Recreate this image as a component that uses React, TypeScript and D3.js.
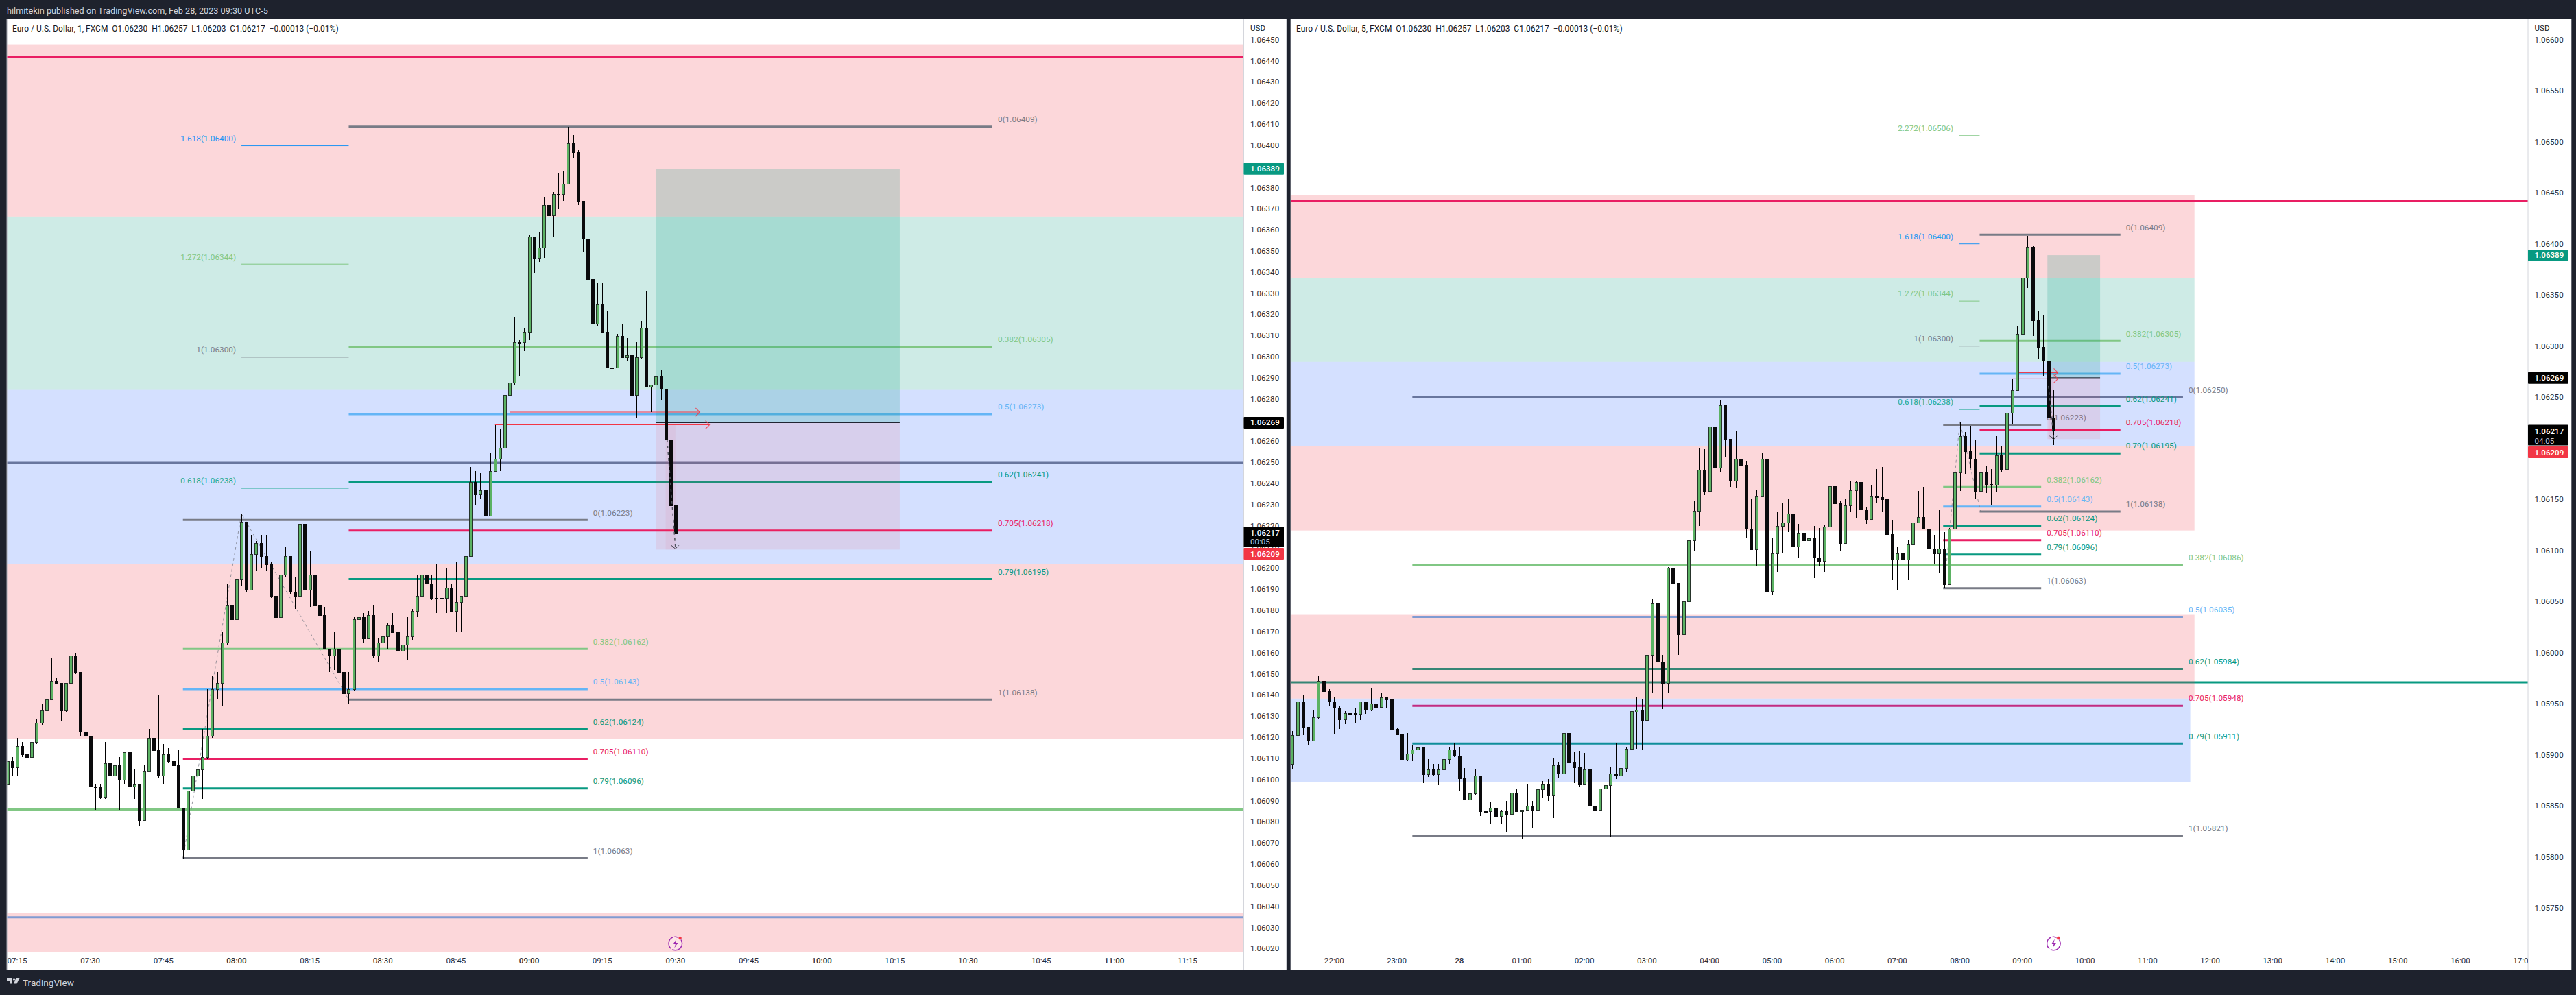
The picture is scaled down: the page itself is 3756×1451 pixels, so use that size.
import React from "react";
import * as d3 from "d3";

// Candles: [open, high, low, close] as fifth-decimal points above 1.00000 (6223 = 1.06223)
const candles1m: number[][] = [
[6098,6109,6091,6109],[6109,6111,6102,6106],[6106,6120,6102,6116],[6116,6118,6111,6112],[6112,6113,6104,6111],[6111,6119,6103,6118],
[6118,6129,6117,6127],[6127,6136,6126,6133],[6133,6140,6131,6138],[6138,6158,6138,6147],[6147,6148,6146,6146],[6146,6146,6128,6133],
[6133,6146,6132,6146],[6146,6162,6143,6159],[6159,6160,6150,6151],[6151,6151,6121,6123],[6123,6124,6121,6121],[6121,6123,6092,6097],
[6097,6098,6086,6097],[6097,6098,6091,6092],[6092,6118,6091,6108],[6108,6108,6086,6102],[6102,6107,6101,6107],[6107,6111,6086,6100],
[6100,6113,6098,6113],[6113,6115,6097,6097],[6097,6105,6091,6098],[6098,6098,6078,6081],[6081,6107,6081,6104],[6104,6124,6104,6120],
[6120,6126,6113,6114],[6114,6140,6101,6102],[6102,6117,6098,6112],[6112,6115,6108,6109],[6109,6119,6106,6107],[6107,6114,6087,6087],
[6087,6087,6063,6067],[6067,6095,6067,6095],[6095,6109,6092,6102],[6102,6123,6095,6105],[6105,6124,6091,6111],[6111,6143,6110,6121],
[6121,6149,6120,6143],[6143,6151,6138,6146],[6146,6170,6135,6165],[6165,6193,6164,6183],[6183,6190,6168,6176],[6176,6197,6158,6195],
[6195,6226,6192,6222],[6222,6222,6189,6190],[6190,6216,6190,6207],[6207,6213,6199,6212],[6212,6216,6200,6206],[6206,6216,6199,6202],
[6202,6203,6186,6187],[6187,6187,6175,6177],[6177,6213,6177,6197],[6197,6210,6196,6206],[6206,6206,6188,6189],[6189,6196,6181,6187],
[6187,6221,6187,6221],[6221,6222,6189,6190],[6190,6208,6182,6197],[6197,6207,6183,6183],[6183,6192,6177,6178],[6178,6182,6162,6162],
[6162,6162,6151,6159],[6159,6170,6152,6162],[6162,6168,6150,6151],[6151,6155,6137,6141],[6141,6151,6136,6143],[6143,6177,6142,6176],
[6176,6177,6157,6177],[6177,6179,6165,6167],[6167,6180,6167,6178],[6178,6183,6158,6159],[6159,6167,6156,6165],[6165,6180,6161,6168],
[6168,6174,6162,6173],[6173,6179,6170,6170],[6170,6177,6153,6161],[6161,6168,6145,6164],[6164,6177,6157,6168],[6168,6181,6166,6180],
[6180,6197,6177,6187],[6187,6210,6182,6197],[6197,6212,6192,6193],[6193,6197,6185,6186],[6186,6202,6179,6186],[6186,6191,6177,6186],
[6186,6200,6179,6191],[6191,6193,6180,6180],[6180,6203,6170,6184],[6184,6187,6170,6187],[6187,6209,6185,6206],[6206,6248,6206,6241],
[6241,6246,6230,6235],[6235,6245,6233,6237],[6237,6238,6224,6225],[6225,6255,6225,6246],[6246,6268,6246,6252],[6252,6266,6246,6257],
[6257,6285,6257,6282],[6282,6288,6273,6288],[6288,6319,6287,6307],[6307,6308,6291,6307],[6307,6314,6303,6312],[6312,6358,6308,6357],
[6357,6357,6340,6347],[6347,6359,6345,6352],[6352,6376,6347,6372],[6372,6392,6366,6367],[6367,6378,6357,6377],[6377,6387,6370,6377],
[6377,6388,6374,6382],[6382,6409,6382,6401],[6401,6405,6394,6397],[6397,6398,6372,6374],[6374,6374,6350,6356],[6356,6356,6335,6337],
[6337,6338,6310,6316],[6316,6335,6315,6325],[6325,6335,6312,6312],[6312,6322,6295,6295],[6295,6300,6286,6295],[6295,6311,6295,6310],
[6310,6316,6300,6300],[6300,6309,6298,6301],[6301,6301,6281,6282],[6282,6307,6271,6300],[6300,6317,6299,6314],[6314,6331,6286,6286],
[6286,6287,6274,6287],[6287,6300,6282,6291],[6291,6294,6280,6285],[6285,6285,6261,6261],[6261,6261,6215,6230],[6230,6257,6203,6217],
];
const candles5m: number[][] = [
[5891,5923,5886,5919],[5919,5956,5918,5952],[5952,5958,5919,5927],[5927,5927,5909,5914],[5914,5944,5914,5937],[5937,5977,5935,5972],
[5972,5986,5961,5962],[5962,5964,5948,5952],[5952,5956,5920,5946],[5946,5948,5925,5935],[5935,5943,5930,5941],[5941,5942,5930,5941],
[5941,5946,5931,5940],[5940,5952,5934,5952],[5952,5952,5940,5944],[5944,5965,5943,5950],[5950,5960,5943,5947],[5947,5961,5947,5956],
[5956,5957,5946,5954],[5954,5954,5910,5925],[5925,5926,5919,5920],[5920,5920,5895,5895],[5895,5921,5894,5901],[5901,5910,5894,5905],
[5905,5915,5901,5907],[5907,5908,5872,5881],[5881,5896,5878,5886],[5886,5891,5879,5881],[5881,5891,5870,5886],[5886,5901,5877,5896],
[5896,5907,5891,5905],[5905,5911,5898,5899],[5899,5907,5864,5877],[5877,5887,5856,5856],[5856,5866,5855,5862],[5862,5886,5861,5880],
[5880,5880,5840,5845],[5845,5858,5839,5845],[5845,5854,5832,5848],[5848,5848,5819,5840],[5840,5846,5832,5845],[5845,5855,5824,5842],
[5842,5863,5832,5863],[5863,5866,5844,5845],[5845,5846,5818,5846],[5846,5871,5845,5850],[5850,5855,5828,5846],[5846,5866,5846,5866],
[5866,5874,5858,5871],[5871,5876,5855,5860],[5860,5897,5838,5890],[5890,5893,5877,5882],[5882,5926,5882,5921],[5921,5923,5872,5893],
[5893,5903,5872,5888],[5888,5904,5869,5871],[5871,5902,5870,5886],[5886,5887,5844,5850],[5850,5868,5836,5846],[5846,5867,5846,5867],
[5867,5877,5854,5870],[5870,5888,5820,5882],[5882,5911,5876,5880],[5880,5911,5860,5887],[5887,5908,5883,5906],[5906,5968,5883,5943],
[5942,5957,5906,5944],[5944,5955,5905,5934],[5934,6030,5934,5998],[5998,6052,5960,6048],[6048,6052,5979,5991],[5991,5998,5945,5970],
[5970,6084,5961,6083],[6083,6130,6050,6068],[6068,6068,5998,6018],[6018,6055,6007,6050],[6050,6118,6050,6110],[6110,6148,6099,6139],
[6139,6200,6124,6179],[6179,6199,6154,6158],[6158,6251,6152,6221],[6221,6236,6157,6181],[6181,6247,6176,6242],[6242,6242,6191,6209],
[6209,6209,6162,6168],[6168,6217,6161,6190],[6190,6194,6146,6184],[6184,6187,6112,6121],[6121,6150,6101,6101],[6101,6159,6085,6153],
[6153,6195,6153,6190],[6190,6192,6038,6060],[6060,6112,6056,6097],[6097,6138,6079,6124],[6124,6147,6097,6127],[6127,6151,6118,6136],
[6136,6142,6091,6104],[6104,6126,6093,6117],[6117,6119,6073,6110],[6110,6128,6097,6112],[6112,6124,6073,6093],[6093,6122,6085,6090],
[6090,6125,6079,6123],[6123,6171,6121,6163],[6163,6185,6118,6146],[6146,6149,6100,6107],[6107,6150,6107,6144],[6144,6168,6138,6159],
[6159,6168,6132,6167],[6167,6167,6132,6140],[6140,6143,6126,6131],[6131,6164,6131,6153],[6153,6180,6147,6152],[6152,6182,6138,6150],
[6150,6161,6095,6116],[6116,6129,6071,6091],[6091,6103,6061,6097],[6097,6118,6087,6091],[6091,6110,6071,6106],[6106,6129,6102,6127],
[6127,6158,6127,6133],[6133,6162,6121,6121],[6121,6123,6087,6102],[6102,6115,6087,6097],[6097,6140,6078,6102],[6102,6118,6063,6067],
[6067,6122,6067,6121],[6121,6193,6120,6176],[6176,6226,6158,6212],[6212,6216,6175,6197],[6197,6222,6181,6190],[6190,6208,6151,6158],
[6158,6177,6137,6176],[6176,6183,6156,6165],[6165,6180,6145,6164],[6164,6212,6157,6193],[6193,6202,6177,6180],[6180,6248,6171,6235],
[6235,6268,6224,6257],[6257,6319,6257,6312],[6312,6392,6308,6367],[6367,6408,6357,6397],[6397,6398,6310,6325],[6325,6335,6287,6299],
[6299,6331,6271,6286],[6286,6300,6215,6230],[6230,6257,6203,6217],
];

// Fibonacci levels: [ratio, price]
const fibSwingA: [string, number][] = [["0",1.0625],["0.382",1.06086],["0.5",1.06035],["0.62",1.05984],["0.705",1.05948],["0.79",1.05911],["1",1.05821]];
const fibSwingB: [string, number][] = [["0",1.06223],["0.382",1.06162],["0.5",1.06143],["0.62",1.06124],["0.705",1.0611],["0.79",1.06096],["1",1.06063]];
const fibSwingC: [string, number][] = [["0",1.06409],["0.382",1.06305],["0.5",1.06273],["0.62",1.06241],["0.705",1.06218],["0.79",1.06195],["1",1.06138]];
const fibExtension1m: [string, number][] = [["1.618",1.064],["1.272",1.06344],["1",1.063],["0.618",1.06238]];
const fibExtension5m: [string, number][] = [["2.272",1.06506],...fibExtension1m];

// Zones: [top price, bottom price, kind, end minute]
const zones: [number, number, string, number][] = [
  [1.06448,1.063665,"pink",705],[1.063665,1.062845,"green",705],[1.062845,1.06202,"blue",705],[1.06202,1.061195,"pink",705],
  [1.06037,1.05955,"pink",705],[1.05955,1.05873,"blue",701],
];
const crimsonLevel = 1.06442;
const tealLevel = 1.05971;

const priceTicks1m = d3.range(6020, 6451, 10).map((v) => 1 + v / 1e5);
const priceTicks5m = d3.range(5750, 6601, 50).map((v) => 1 + v / 1e5);
const timeTicks1m: [string, number, boolean][] = [["07:15",435,false],["07:30",450,false],["07:45",465,false],["08:00",480,true],["08:15",495,false],["08:30",510,false],["08:45",525,false],["09:00",540,true],["09:15",555,false],["09:30",570,false],["09:45",585,false],["10:00",600,true],["10:15",615,false],["10:30",630,false],["10:45",645,false],["11:00",660,true],["11:15",675,false]];
const timeTicks5m: [string, number, boolean][] = [["22:00",-120,false],["23:00",-60,false],["28",0,true],["01:00",60,false],["02:00",120,false],["03:00",180,false],["04:00",240,false],["05:00",300,false],["06:00",360,false],["07:00",420,false],["08:00",480,false],["09:00",540,false],["10:00",600,false],["11:00",660,false],["12:00",720,false],["13:00",780,false],["14:00",840,false],["15:00",900,false],["16:00",960,false],["17:00",1020,false]];

const COLORS: Record<string, string> = { "0":"#787b86","0.382":"#81c784","0.5":"#64b5f6","0.62":"#089981","0.705":"#e91e63","0.79":"#089981","1":"#787b86","1.618":"#2196f3","1.272":"#81c784","0.618":"#22ab94","2.272":"#81c784" };
const ZONE: Record<string, string> = { pink:"#f23645", green:"#089981", blue:"#2962ff" };
const FONT = "Roboto, sans-serif";
const fmt = (p: number) => p.toFixed(5);

type PanelCfg = {
  id: string; x0: number; x1: number; right: number; candles: number[][]; firstMinute: number; step: number;
  xDomain: [number, number]; xRange: [number, number]; yDomain: [number, number]; yRange: [number, number];
  fibA: [number, number]; showFibALabels: boolean; fibB: [number, number]; fibC: [number, number]; fibD: [number, number]; ext: [string, number][];
  tool: [number, number]; stopX: [number, number]; swing: [number, number][]; stopPath: [number, number][];
  arrows: [number, number, number][]; priceTicks: number[]; timeTicks: [string, number, boolean][];
  title: string; countdown: string; labelYs: number[];
};

const panels: PanelCfg[] = [
  { id:"a", x0:10, x1:1813.5, right:1876, candles:candles1m, firstMinute:433, step:1,
    xDomain:[435,675], xRange:[25,1731.4], yDomain:[1.0645,1.0602], yRange:[58.4,1384.1],
    fibA:[-45,694], showFibALabels:false, fibB:[469,552], fibC:[503,635], fibD:[481,503], ext:fibExtension1m,
    tool:[566,616], stopX:[568,570], swing:[[469,1.06063],[481,1.06226],[503,1.06138]], stopPath:[[568.3,1.06261],[570,1.0621]],
    arrows:[[536,575,1.06274],[533,577,1.06268]], priceTicks:priceTicks1m, timeTicks:timeTicks1m,
    title:"Euro / U.S. Dollar, 1, FXCM  O1.06230  H1.06257  L1.06203  C1.06217  −0.00013 (−0.01%)", countdown:"00:05", labelYs:[246.3,616.4,776.9,790.4,807.6] },
  { id:"b", x0:1882, x1:3686, right:3749, candles:candles5m, firstMinute:-160, step:5,
    xDomain:[-120,960], xRange:[1945.3,3587.4], yDomain:[1.066,1.0575], yRange:[57.7,1324.2],
    fibA:[-45,694], showFibALabels:true, fibB:[464,558], fibC:[499,634], fibD:[479,499], ext:fibExtension5m,
    tool:[564,614.5], stopX:[565,570], swing:[[465,1.06063],[480,1.06226],[500,1.06138]], stopPath:[[565,1.06261],[570,1.0621]],
    arrows:[[535,574,1.06274],[530,574,1.06268]], priceTicks:priceTicks5m, timeTicks:timeTicks5m,
    title:"Euro / U.S. Dollar, 5, FXCM  O1.06230  H1.06257  L1.06203  C1.06217  −0.00013 (−0.01%)", countdown:"04:05", labelYs:[372.4,551.2,628.5,642.5,659.5] },
];

const TOP = 27.5, BOTTOM = 1414.5, AXIS_Y = 1388.5;

function Panel({ c }: { c: PanelCfg }) {
  const x = d3.scaleLinear().domain(c.xDomain).range(c.xRange);
  const y = d3.scaleLinear().domain(c.yDomain).range(c.yRange);
  const line = d3.line<[number, number]>().x((d) => x(d[0])).y((d) => y(d[1]));
  const fibLines = (levels: [string, number][], ext: [number, number], w: number) =>
    levels.map(([r, p]) => (
      <line key={r + p} x1={x(ext[0])} x2={x(ext[1])} y1={y(p)} y2={y(p)} stroke={COLORS[r]} strokeWidth={w} />
    ));
  const fibLabels = (levels: [string, number][], ext: [number, number], before: boolean) =>
    levels.map(([r, p]) => (
      <text key={r + p} x={before ? x(ext[0]) - 8 : x(ext[1]) + 8} y={y(p) - 10.7} fill={COLORS[r]}
        fontSize={11.8} dominantBaseline="central" textAnchor={before ? "end" : "start"} fontFamily={FONT}>
        {r}({fmt(p)})
      </text>
    ));
  const iconX = x(570);
  const textX = c.x1 + 9.5;
  const bw = 58.5;
  const [ly1, ly2, ly3, ly4, ly5] = c.labelYs;
  return (
    <g>
      <rect x={c.x0} y={TOP} width={c.right - c.x0} height={BOTTOM - TOP} fill="#fff" stroke="#a3a6af" strokeWidth={1} />
      <clipPath id={"clip" + c.id}><rect x={c.x0 + 0.5} y={TOP + 0.5} width={c.x1 - c.x0 - 0.5} height={AXIS_Y - TOP - 0.5} /></clipPath>
      <g clipPath={`url(#clip${c.id})`}>
        {fibLines(fibSwingA, c.fibA, 3)}
        <line x1={c.x0} x2={c.x1} y1={y(tealLevel)} y2={y(tealLevel)} stroke="#089981" strokeWidth={3} />
        {zones.map(([t, b, k, e], i) => (
          <rect key={i} x={c.x0} y={y(t)} width={Math.max(0, x(e) - c.x0)} height={y(b) - y(t)} fill={ZONE[k]} fillOpacity={0.2} />
        ))}
        <line x1={c.x0} x2={c.x1} y1={y(crimsonLevel)} y2={y(crimsonLevel)} stroke="#e91e63" strokeWidth={3} />
        {fibLines(fibSwingC, c.fibC, 3)}
        {fibLines(fibSwingB, c.fibB, 3)}
        {fibLines(c.ext, c.fibD, 1)}
        {c.showFibALabels && fibLabels(fibSwingA, c.fibA, false)}
        {fibLabels(fibSwingB, c.fibB, false)}
        {fibLabels(fibSwingC, c.fibC, false)}
        {fibLabels(c.ext, c.fibD, true)}
        <path d={line(c.swing) || ""} fill="none" stroke="#787b86" strokeOpacity={0.75} strokeWidth={1} strokeDasharray="4 4" />
        <rect x={x(c.tool[0])} y={y(1.06389)} width={x(c.tool[1]) - x(c.tool[0])} height={y(1.06269) - y(1.06389)} fill="#089981" fillOpacity={0.2} />
        <rect x={x(c.tool[0])} y={y(1.06269)} width={x(c.tool[1]) - x(c.tool[0])} height={y(1.06209) - y(1.06269)} fill="#f23645" fillOpacity={0.1} />
        <rect x={x(c.stopX[0])} y={y(1.06268)} width={x(c.stopX[1]) - x(c.stopX[0])} height={y(1.06209) - y(1.06268)} fill="#f23645" fillOpacity={0.06} />
        <line x1={x(c.tool[0])} x2={x(c.tool[1])} y1={y(1.06269)} y2={y(1.06269)} stroke="#131722" strokeWidth={1} />
        {c.arrows.map(([a, b, p], i) => (
          <g key={i} fill="none" stroke="#f23645">
            <line x1={x(a)} x2={x(b)} y1={y(p)} y2={y(p)} strokeWidth={1} />
            <path d={`M${x(b) - 6},${y(p) - 6}L${x(b)},${y(p)}L${x(b) - 6},${y(p) + 6}`} strokeWidth={1.2} strokeOpacity={0.8} />
          </g>
        ))}
        {c.candles.map((d, i) => {
          const [o, h, l, cl] = d.map((v) => 1 + v / 1e5);
          const cx = Math.round(x(c.firstMinute + i * c.step));
          const up = cl > o;
          const top = Math.round(y(Math.max(o, cl))) + 0.5;
          const bot = Math.round(y(Math.min(o, cl))) + 0.5;
          return (
            <g key={i} shapeRendering="crispEdges">
              <line x1={cx + 0.5} x2={cx + 0.5} y1={y(h)} y2={y(l)} stroke="#000" strokeWidth={1} />
              <rect x={cx - 1.5} y={top} width={4} height={Math.max(bot - top, 1)} fill={up ? "#5bb263" : "#0a0a0c"} stroke={up ? "#26332a" : "#0a0a0c"} strokeWidth={1} />
            </g>
          );
        })}
        <path d={line(c.stopPath) || ""} fill="none" stroke="#50535e" strokeWidth={1.5} strokeDasharray="4 5" />
        <path d={`M${x(c.stopPath[1][0]) - 6},${y(1.0621) - 3}L${x(c.stopPath[1][0])},${y(1.0621) + 2}L${x(c.stopPath[1][0]) + 5},${y(1.0621) - 3}`} fill="none" stroke="#3a3d47" strokeWidth={1} />
        <g transform={`translate(${iconX},1376)`}>
          <circle r={9.8} fill="#fff" fillOpacity={0.35} stroke="#9c27b0" strokeWidth={1.4} strokeDasharray="20 2" />
          <path d="M1.5,-6.5L-3.5,1H0L-1.5,6.5L3.5,-1H0Z" fill="#9c27b0" />
          <circle cx={6.8} cy={-8} r={2.6} fill="#f23645" stroke="#fff" strokeWidth={0.6} />
        </g>
      </g>

      <text x={c.x0 + 8} y={42} fontSize={12} fill="#131722" fontFamily={FONT} dominantBaseline="central" style={{ whiteSpace: "pre" }}>{c.title}</text>

      <line x1={c.x1} x2={c.x1} y1={TOP} y2={BOTTOM} stroke="#d4d6dc" strokeWidth={1} />
      <line x1={c.x0} x2={c.right} y1={AXIS_Y} y2={AXIS_Y} stroke="#e0e3eb" strokeWidth={1} />
      <text x={textX} y={40.5} fontSize={11.6} fill="#131722" fontFamily={FONT} dominantBaseline="central">USD</text>
      {c.priceTicks.map((p) => (
        <text key={p} x={textX} y={y(p) - (c.id === "a" ? 0.7 : 0)} fontSize={11.6} fill="#2a2e39" fontFamily={FONT} dominantBaseline="central">{fmt(p)}</text>
      ))}
      <clipPath id={"clipt" + c.id}><rect x={c.x0} y={AXIS_Y} width={c.x1 - c.x0} height={BOTTOM - AXIS_Y} /></clipPath>
      <g clipPath={`url(#clipt${c.id})`}>
        {c.timeTicks.map(([s, t, b]) => (
          <text key={s} x={x(t)} y={1401} fontSize={11.6} fill="#2a2e39" fontWeight={b ? 500 : 400} textAnchor="middle" fontFamily={FONT} dominantBaseline="central">{s}</text>
        ))}
      </g>

      <rect x={c.x1} y={ly1 - 8.5} width={bw} height={17} rx={1} fill="#089981" />
      <text x={textX} y={ly1} fontSize={11.6} fill="#fff" fontWeight={500} fontFamily={FONT} dominantBaseline="central">1.06389</text>
      <rect x={c.x1} y={ly2 - 8.5} width={bw} height={17} rx={1} fill="#000" />
      <text x={textX} y={ly2} fontSize={11.6} fill="#fff" fontWeight={500} fontFamily={FONT} dominantBaseline="central">1.06269</text>
      <rect x={c.x1} y={ly3 - 9} width={bw} height={30} rx={1} fill="#000" />
      <text x={textX} y={ly3} fontSize={11.6} fill="#fff" fontWeight={500} fontFamily={FONT} dominantBaseline="central">1.06217</text>
      <text x={textX} y={ly4} fontSize={11.6} fill="#c8cad0" fontFamily={FONT} dominantBaseline="central">{c.countdown}</text>
      <rect x={c.x1} y={ly5 - 8.5} width={bw} height={17} rx={1} fill="#f23645" />
      <text x={textX} y={ly5} fontSize={11.6} fill="#fff" fontWeight={500} fontFamily={FONT} dominantBaseline="central">1.06209</text>
    </g>
  );
}

export default function App() {
  return (
    <svg width={3756} height={1451} viewBox="0 0 3756 1451" style={{ position: "absolute", left: 0, top: 0, display: "block" }}>
      <rect width={3756} height={1451} fill="#1e222d" />
      <text x={10} y={15} fontSize={12.7} fill="#d1d4dc" fontFamily={FONT} dominantBaseline="central">hilmitekin published on TradingView.com, Feb 28, 2023 09:30 UTC-5</text>
      {panels.map((c) => <Panel key={c.id} c={c} />)}
      <g fill="#d1d4dc">
        <path d="M10,1426h8v8.5h-3.5V1430H10Z M23.5,1426h5l-4,8.5h-4.5Z" />
        <circle cx={20.5} cy={1428} r={1.7} />
      </g>
      <text x={33} y={1433} fontSize={13.6} fill="#d1d4dc" fontFamily={FONT} dominantBaseline="central">TradingView</text>
    </svg>
  );
}
